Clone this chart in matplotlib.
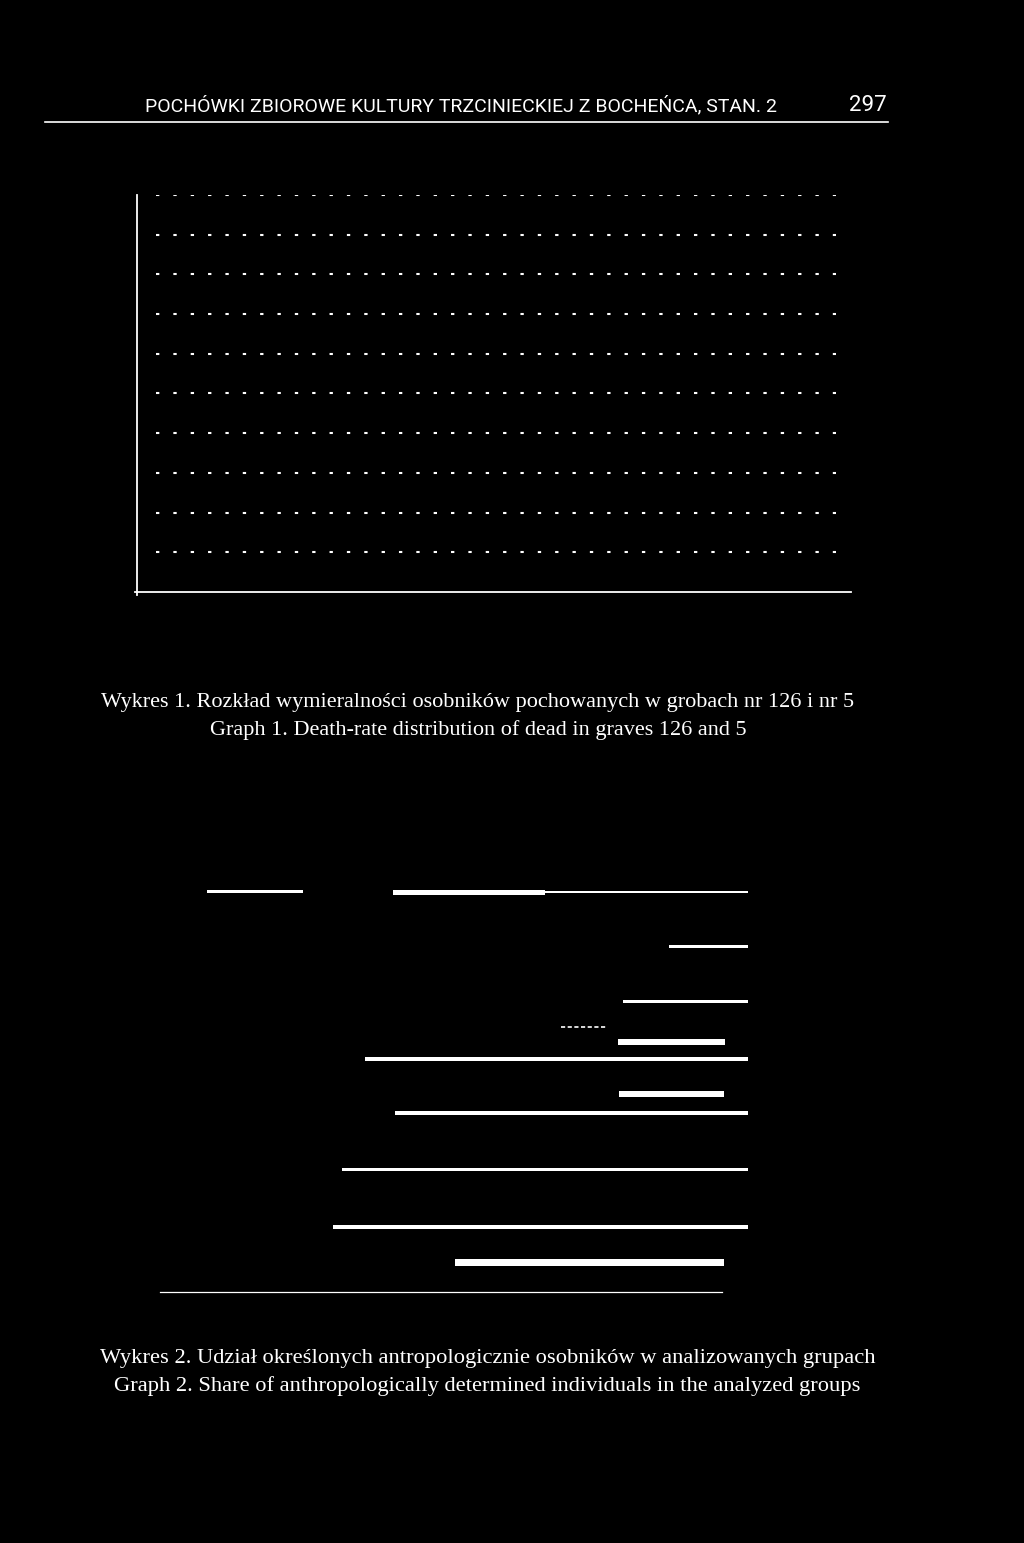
"""
Strona 297 - Wykres 1 i Wykres 2 (skan odwrocony: biale na czarnym)
"""

import matplotlib
matplotlib.use("Agg")
import matplotlib.pyplot as plt
from matplotlib.lines import Line2D

W, H = 1024, 1543
BG, FG = "black", "white"

HEADER = "POCHÓWKI ZBIOROWE KULTURY TRZCINIECKIEJ Z BOCHEŃCA, STAN. 2"
PAGE_NO = "297"
CAPTION_1 = ["Wykres 1. Rozkład wymieralności osobników pochowanych w grobach nr 126 i nr 5",
             "Graph 1. Death-rate distribution of dead in graves 126 and 5"]
CAPTION_2 = ["Wykres 2. Udział określonych antropologicznie osobników w analizowanych grupach",
             "Graph 2. Share of anthropologically determined individuals in the analyzed groups"]

# Wykres 1: os y 0..10, linie siatki co 1 (slupki nieczytelne na skanie)
g1_ymax = 10
g1_grid = [1, 2, 3, 4, 5, 6, 7, 8, 9, 10]

# Wykres 2: poziome odcinki (start %, koniec %, wiersz, grubosc wiersza)
g2_start = [8.0, 39.6, 39.6, 86.6, 78.7, 68.2, 77.9, 34.9, 78.1, 40.0, 31.0, 29.4, 50.2]
g2_end = [24.3, 65.5, 100.0, 100.0, 100.0, 76.0, 96.1, 100.0, 95.9, 100.0, 100.0, 100.0, 95.9]
g2_row = [0.20, 0.23, 0.21, 1.18, 2.16, 2.61, 2.88, 3.18, 3.80, 4.14, 5.14, 6.16, 6.80]
g2_thick = [0.045, 0.09, 0.045, 0.045, 0.045, 0.025, 0.11, 0.065, 0.11, 0.065, 0.055, 0.065, 0.12]
g2_dashed = [False, False, False, False, False, True, False, False, False, False, False, False, False]
g2_rows_max = 7.32
g2_axis_end = 95.6

SANS = ["Roboto", "DejaVu Sans"]
SERIF = ["Liberation Serif", "DejaVu Serif"]


def px_axes(fig, x0, y0, x1, y1):
    # prostokat w pikselach (gora-lewo) -> osie w ulamkach figury
    ax = fig.add_axes([x0 / W, 1 - y1 / H, (x1 - x0) / W, (y1 - y0) / H])
    ax.set_facecolor(BG)
    return ax


def fig_line(fig, x0, x1, y, lw):
    fig.add_artist(Line2D([x0 / W, x1 / W], [1 - y / H, 1 - y / H], color=FG, lw=lw,
                          transform=fig.transFigure))


fig = plt.figure(figsize=(W / 100, H / 100), dpi=100, facecolor=BG)

# naglowek strony (wspolna linia bazowa)
fig.text(145 / W, 1 - 111 / H, HEADER, color=FG, fontsize=14.0, family=SANS, ha="left", va="baseline")
fig.text(887 / W, 1 - 111 / H, PAGE_NO, color=FG, fontsize=16, family=SANS, ha="right", va="baseline")
fig_line(fig, 45, 888, 122, 1.2)

# --- Wykres 1 ---
ax1 = px_axes(fig, 137, 195, 851, 592)
ax1.set_xlim(0, 1)
ax1.set_ylim(0, g1_ymax)
for s in ("top", "right"):
    ax1.spines[s].set_visible(False)
for s in ("left", "bottom"):
    ax1.spines[s].set_color(FG)
    ax1.spines[s].set_linewidth(1.3)
ax1.set_xticks([])
ax1.set_yticks([])
ax1.hlines(g1_grid, 0.026, 0.979, colors=FG, lw=1.5, linestyles=(0, (1.6, 6.73)))
# maly krzyzyk w poczatku ukladu
ax1.plot([-0.003, 0.0], [0, 0], color=FG, lw=1.3, clip_on=False)
ax1.plot([0, 0], [0, -0.08], color=FG, lw=1.3, clip_on=False)

for i, line in enumerate(CAPTION_1):
    fig.text(478 / W, 1 - (703 + 27 * i) / H, line, color=FG, fontsize=16, family=SERIF,
             ha="center", va="center")

# --- Wykres 2 ---
ax2 = px_axes(fig, 160, 880, 748, 1292)
ax2.set_xlim(0, 100)
ax2.set_ylim(g2_rows_max, 0)
for s in ("top", "right", "left"):
    ax2.spines[s].set_visible(False)
ax2.spines["bottom"].set_color(FG)
ax2.spines["bottom"].set_linewidth(0.9)
ax2.spines["bottom"].set_bounds(0, g2_axis_end)
ax2.set_xticks([])
ax2.set_yticks([])

for x0, x1, r, t, d in zip(g2_start, g2_end, g2_row, g2_thick, g2_dashed):
    if d:
        ax2.hlines(r, x0, x1, colors=FG, lw=1.2, linestyles=(0, (2.5, 1.5)))
    else:
        ax2.barh(r, x1 - x0, left=x0, height=t, color=FG, edgecolor="none")

for i, line in enumerate(CAPTION_2):
    fig.text(487.5 / W, 1 - (1359 + 27 * i) / H, line, color=FG, fontsize=16.2, family=SERIF,
             ha="center", va="center")

fig.savefig("out.png", dpi=100, facecolor=BG)
plt.close(fig)
